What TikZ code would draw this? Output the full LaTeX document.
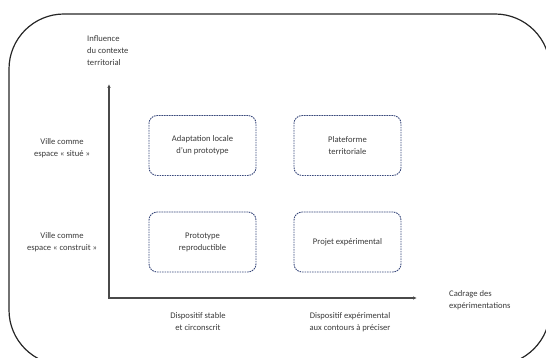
\documentclass[tikz,border=0pt]{standalone}
\usepackage{fontspec}
\setmainfont{Carlito}
\usetikzlibrary{arrows.meta}
\definecolor{boxblue}{HTML}{3A4A7C}
\definecolor{txt}{HTML}{3A3A3A}
\definecolor{axisgray}{HTML}{4A4A4A}
\begin{document}
\begin{tikzpicture}[x=1pt,y=-1pt,
  every node/.style={font=\fontsize{8.6}{12}\selectfont, text=txt, inner sep=0pt},
  quadbox/.style={draw=boxblue, line width=0.9pt, dash pattern=on 1.6pt off 0.9pt,
    rounded corners=8pt, minimum width=107pt, minimum height=60pt, align=center},
  axisline/.style={draw=axisgray, line width=1.3pt, -{Latex[length=4pt,width=3.5pt]}},
  lbl/.style={align=center}]
\useasboundingbox (0,0) rectangle (546,358);
\begin{scope}
\clip (0,0) rectangle (546,358);
\draw[line width=1.2pt, draw=black!85, rounded corners=55pt] (9,14) rectangle (550,365);
\end{scope}
% axes
\coordinate (O) at (109,298);
\coordinate (ytop) at (109,84);
\coordinate (xend) at (417,298);
\draw[axisline] (O) -- (ytop);
\draw[axisline] ([xshift=-0.65pt]O) -- (xend);
% boxes
\node[quadbox] (b1) at (202.5,145.5) {Adaptation locale\\d'un prototype};
\node[quadbox] (b2) at (347.5,145.5) {Plateforme\\territoriale};
\node[quadbox] (b3) at (202.5,242) {Prototype\\reproductible};
\node[quadbox] (b4) at (347.5,242) {Projet expérimental};
% labels
\node[align=left, anchor=north west] (ylab) at (87,35) {Influence\\du contexte\\territorial};
\node[lbl] (v1) at (62,148) {Ville comme\\espace « situé »};
\node[lbl] (v2) at (62,242) {Ville comme\\espace « construit »};
\node[lbl] (d1) at (198,322) {Dispositif stable\\et circonscrit};
\node[lbl] (d2) at (350,322) {Dispositif expérimental\\aux contours à préciser};
\node[align=left, anchor=west] (xlab) at (449,300) {Cadrage des\\expérimentations};
\end{tikzpicture}
\end{document}
